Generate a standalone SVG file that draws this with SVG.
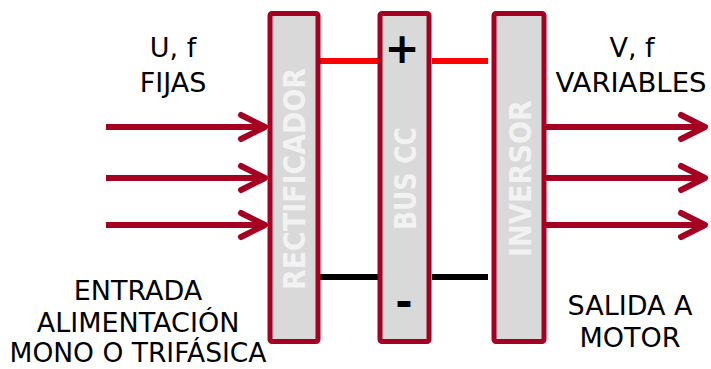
<svg xmlns="http://www.w3.org/2000/svg" width="711" height="369" viewBox="0 0 711 369">
  <style>
    .box { fill: #d9d9d9; stroke: #a50021; stroke-width: 5; }
    .vlab { font-family: "DejaVu Sans", sans-serif; font-weight: bold; font-size: 30px; fill: #f2f2f2; text-anchor: middle; }
    .lab { font-family: "DejaVu Sans", sans-serif; font-size: 27px; fill: #000; text-anchor: middle; }
    .sign { font-family: "DejaVu Sans", sans-serif; font-weight: bold; font-size: 42px; fill: #000; text-anchor: middle; }
    .arrow { stroke: #a50021; stroke-width: 6; fill: none; marker-end: url(#chev); }
  </style>
  <defs>
    <marker id="chev" markerUnits="userSpaceOnUse" viewBox="-30 -16 36 32" markerWidth="36" markerHeight="32" refX="0" refY="0" orient="auto" overflow="visible">
      <path d="M-24,-12 L0,0 L-24,12" fill="none" stroke="#a50021" stroke-width="6" stroke-linecap="round" stroke-linejoin="round"/>
    </marker>
  </defs>
  <rect width="711" height="369" fill="#ffffff"/>

  <g id="connectors">
    <line x1="320" y1="61" x2="378" y2="61" stroke="#ff0000" stroke-width="6"/>
    <line x1="432" y1="61" x2="488" y2="61" stroke="#ff0000" stroke-width="6"/>
    <line x1="320" y1="277" x2="378" y2="277" stroke="#000000" stroke-width="6"/>
    <line x1="432" y1="277" x2="488" y2="277" stroke="#000000" stroke-width="6"/>
    <line class="arrow" x1="106" y1="127" x2="265" y2="127"/>
    <line class="arrow" x1="106" y1="178" x2="265" y2="178"/>
    <line class="arrow" x1="106" y1="225" x2="265" y2="225"/>
    <line class="arrow" x1="546" y1="127" x2="705" y2="127"/>
    <line class="arrow" x1="546" y1="178" x2="705" y2="178"/>
    <line class="arrow" x1="546" y1="225" x2="705" y2="225"/>
  </g>

  <g id="rectificador">
    <rect class="box" x="270" y="13.5" width="48" height="328" rx="2"/>
    <text class="vlab" transform="translate(305,179) rotate(-90)" textLength="222" lengthAdjust="spacingAndGlyphs">RECTIFICADOR</text>
  </g>

  <g id="bus-cc">
    <rect class="box" x="380" y="13.5" width="49" height="328" rx="2"/>
    <text class="vlab" transform="translate(416,178.5) rotate(-90)" textLength="103" lengthAdjust="spacingAndGlyphs">BUS CC</text>
    <text class="sign" x="402" y="63">+</text>
    <text class="sign" x="404" y="316">-</text>
  </g>

  <g id="inversor">
    <rect class="box" x="494" y="13.5" width="50" height="328" rx="2"/>
    <text class="vlab" transform="translate(531,178.5) rotate(-90)" textLength="157" lengthAdjust="spacingAndGlyphs">INVERSOR</text>
  </g>

  <g id="entrada-label">
    <text class="lab" x="173" y="57">U, f</text>
    <text class="lab" x="173" y="92">FIJAS</text>
  </g>

  <g id="salida-label">
    <text class="lab" x="632" y="57">V, f</text>
    <text class="lab" x="631" y="92" textLength="151" lengthAdjust="spacingAndGlyphs">VARIABLES</text>
  </g>

  <g id="entrada-alimentacion">
    <text class="lab" x="138" y="300">ENTRADA</text>
    <text class="lab" x="138" y="332">ALIMENTACIÓN</text>
    <text class="lab" x="138" y="362" textLength="257" lengthAdjust="spacingAndGlyphs">MONO O TRIFÁSICA</text>
  </g>

  <g id="salida-motor">
    <text class="lab" x="630" y="315">SALIDA A</text>
    <text class="lab" x="630" y="347">MOTOR</text>
  </g>
</svg>
